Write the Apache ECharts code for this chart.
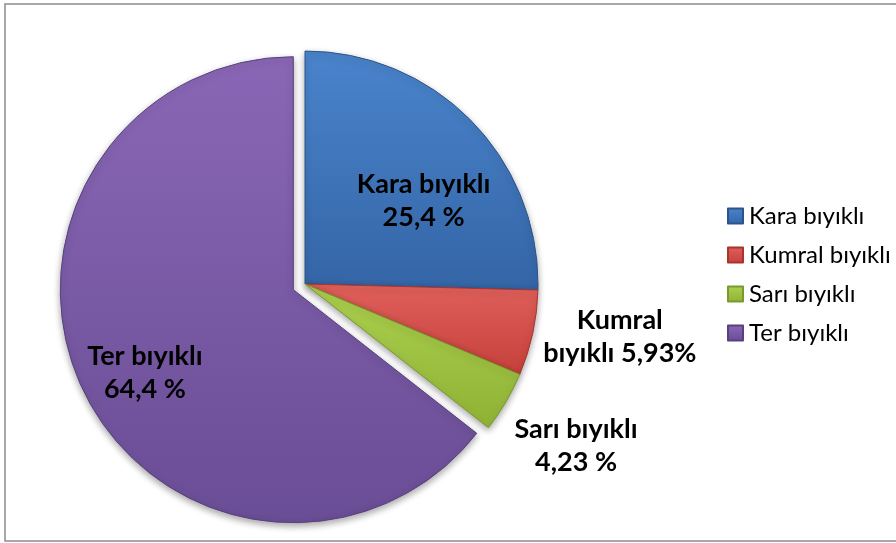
<!DOCTYPE html>
<html>
<head>
<meta charset="utf-8">
<script src="https://cdn.jsdelivr.net/npm/echarts@6/dist/echarts.min.js"></script>
<style>
  html, body { margin: 0; padding: 0; background: #fff; }
  #chart { width: 896px; height: 543px; }
</style>
</head>
<body>
<div id="chart"></div>
<script>
// bıyık tipleri ve yüzdeleri
const categories = ['Kara bıyıklı', 'Kumral bıyıklı', 'Sarı bıyıklı', 'Ter bıyıklı'];
const values = [25.4, 5.93, 4.23, 64.4];
const labelTexts = ['Kara bıyıklı\n25,4 %', 'Kumral\nbıyıklı 5,93%', 'Sarı bıyıklı\n4,23 %', 'Ter bıyıklı\n64,4 %'];

// renkler: [açık, koyu, kenar]
const colors = [
    ['#4a84cc', '#3465a6', '#2a548c'],
    ['#e0605b', '#c5403b', '#a8332f'],
    ['#acd04e', '#8fb236', '#7a992c'],
    ['#8a67b6', '#694d95', '#57407d']
];
const labelOffsets = [[33, 0], [198, 28], [168, 101], [-41, 31]];

const chart = echarts.init(document.getElementById('chart'));

const grad = (c) => new echarts.graphic.LinearGradient(0, 0, 0, 1, [
    { offset: 0, color: c[0] },
    { offset: 1, color: c[1] }
]);

const option = {
    animation: false,
    graphic: [{
        type: 'rect',
        shape: { x: 5, y: 4, width: 900, height: 537 },
        style: { fill: 'none', stroke: '#8c8c8c', lineWidth: 1.5 },
        silent: true
    }],
    legend: {
        orient: 'vertical',
        left: 722,
        top: 199,
        itemWidth: 15,
        itemHeight: 15,
        itemGap: 15,
        icon: 'rect',
        textStyle: {
            fontFamily: 'Lato, "Open Sans", sans-serif',
            fontSize: 24,
            lineHeight: 20,
            color: '#000',
            padding: [0, 0, 0, 1]
        }
    },
    series: [{
        type: 'pie',
        center: [305, 284],
        radius: 233,
        startAngle: 90,
        clockwise: true,
        avoidLabelOverlap: false,
        selectedMode: 'single',
        selectedOffset: 13,
        labelLine: { show: false },
        emphasis: { disabled: true },
        label: {
            show: true,
            position: 'inside',
            fontFamily: 'Lato, "Open Sans", sans-serif',
            fontWeight: 'bold',
            fontSize: 27,
            lineHeight: 33,
            color: '#000'
        },
        itemStyle: {
            shadowColor: 'rgba(0,0,0,0.35)',
            shadowBlur: 7,
            shadowOffsetY: 3,
            borderWidth: 1
        },
        data: categories.map((name, i) => ({
            name: name,
            value: values[i],
            selected: i === 3,
            itemStyle: { color: grad(colors[i]), borderColor: colors[i][2] },
            label: { formatter: labelTexts[i], offset: labelOffsets[i] },
            select: {
                itemStyle: { color: grad(colors[i]), borderColor: colors[i][2] },
                label: { formatter: labelTexts[i], offset: labelOffsets[i] }
            }
        }))
    }]
};

chart.setOption(option);
</script>
</body>
</html>
